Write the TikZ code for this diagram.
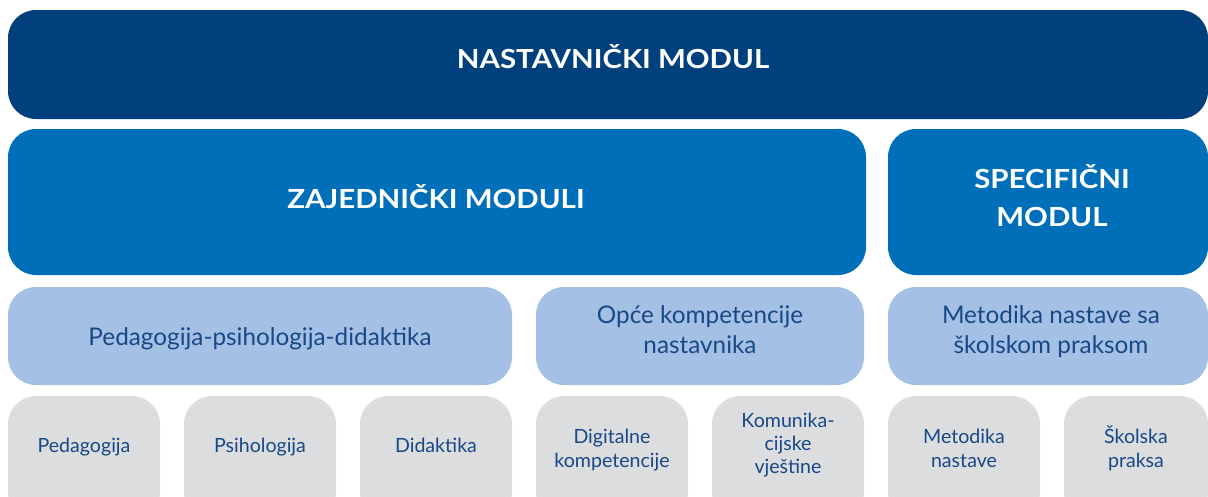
\documentclass[tikz,border=0pt]{standalone}
\usepackage{fontspec}
\setmainfont{Lato}
\newfontfamily\hdrfont[FakeStretch=1.12]{Lato Bold}
\definecolor{cdark}{RGB}{0,64,124}
\definecolor{cmid}{RGB}{0,111,185}
\definecolor{clight}{RGB}{164,193,229}
\definecolor{cgrey}{RGB}{220,221,223}
\definecolor{ctext}{RGB}{24,72,135}
\tikzset{
  box/.style={rounded corners=28pt, inner sep=0pt, draw=none, anchor=center},
  bdark/.style={box, fill=cdark},
  bmid/.style={box, fill=cmid},
  blight/.style={box, fill=clight},
  bgrey/.style={box, fill=cgrey, minimum width=152pt, minimum height=124pt},
  thdr/.style={inner sep=0pt, text=white, align=center, font=\hdrfont\fontsize{26.3}{38}\selectfont},
  tmid/.style={inner sep=0pt, text=ctext, align=center, font=\fontsize{24.3}{30}\selectfont},
  tsmall/.style={inner sep=0pt, text=ctext, align=center, font=\fontsize{19.6}{24}\selectfont},
}
\begin{document}
\begin{tikzpicture}[x=1pt,y=-1pt]
\useasboundingbox (0,0) rectangle (1208,496);
\clip (0,0) rectangle (1208,496);
% row 1
\node[bdark, minimum width=1200pt, minimum height=109pt] (nm) at (608,64.5) {};
\node[thdr, anchor=base] (nmt) at (613,68) {NASTAVNIČKI MODUL};
% row 2
\node[bmid, minimum width=858pt, minimum height=146pt] (zm) at (437,202) {};
\node[thdr, anchor=base] (zmt) at (436,208) {ZAJEDNIČKI MODULI};
\node[bmid, minimum width=320pt, minimum height=146pt] (sm) at (1048,202) {};
\node[thdr, anchor=base] (smt) at (1052,226) {SPECIFIČNI\\MODUL};
% row 3
\node[blight, minimum width=504pt, minimum height=98pt] (ppd) at (260,336) {};
\node[tmid, anchor=base] (ppdt) at (260,345) {Pedagogija-psihologija-didaktika};
\node[blight, minimum width=328pt, minimum height=98pt] (ok) at (700,336) {};
\node[tmid, anchor=base] (okt) at (700,353) {Opće kompetencije\\nastavnika};
\node[blight, minimum width=320pt, minimum height=98pt] (mn) at (1048,336) {};
\node[tmid, anchor=base] (mnt) at (1051,353) {Metodika nastave sa\\školskom praksom};
% row 4
\node[bgrey] (p) at (84,458) {};
\node[tsmall, anchor=base] (pt) at (84,452) {Pedagogija};
\node[bgrey] (ps) at (260,458) {};
\node[tsmall, anchor=base] (pst) at (260,452) {Psihologija};
\node[bgrey] (d) at (436,458) {};
\node[tsmall, anchor=base] (dt) at (436,452) {Didaktika};
\node[bgrey] (dk) at (612,458) {};
\node[tsmall, anchor=base] (dkt) at (612,467) {Digitalne\\kompetencije};
\node[bgrey, font=\fontsize{19.6}{23}\selectfont] (kv) at (788,458) {};
\node[tsmall, font=\fontsize{19.6}{23}\selectfont, anchor=base] (kvt) at (788,473) {Komunika-\\cijske\\vještine};
\node[bgrey] (mt) at (964,458) {};
\node[tsmall, anchor=base] (mtt) at (964,467) {Metodika\\nastave};
\node[bgrey, minimum width=144pt] (sp) at (1136,458) {};
\node[tsmall, anchor=base] (spt) at (1136,467) {Školska\\praksa};
\end{tikzpicture}
\end{document}
